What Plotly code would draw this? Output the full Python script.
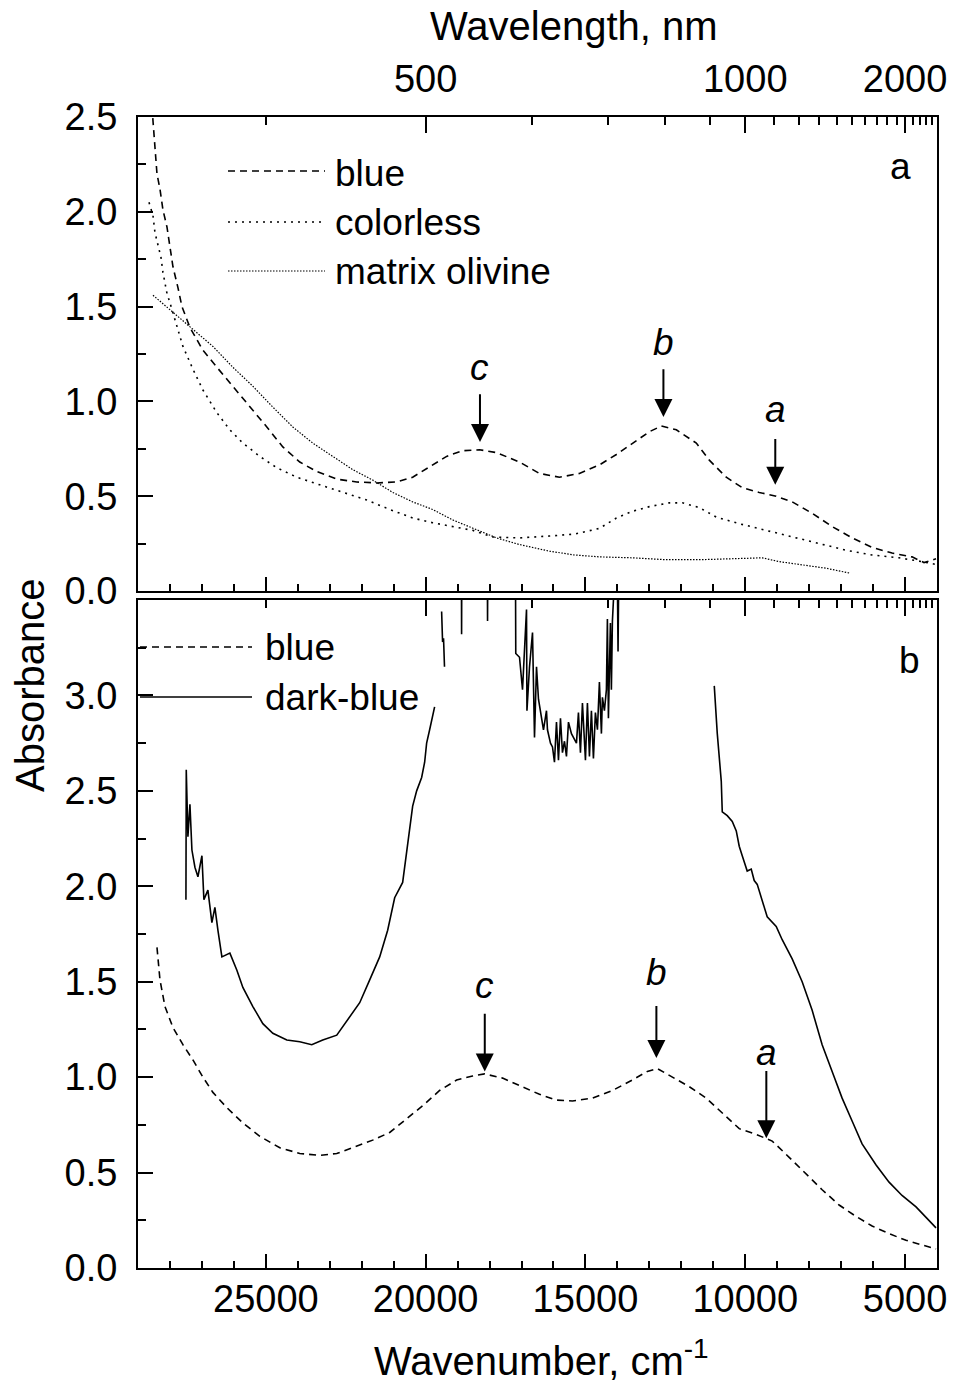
import plotly.graph_objects as go

# ---------------- data (wavenumber cm-1, absorbance) ----------------
# Panel a
a_blue_wn = [28594, 28531, 28469, 28406, 28313, 28219, 28094, 28000, 27906, 27750, 27625, 27375,
             26969, 26531, 26031, 25500, 24969, 24469, 23938, 23406, 22781, 22156, 21531, 20906,
             20406, 19875, 19344, 18844, 18313, 17781, 17063, 16438, 15813, 15188, 14563, 14031,
             13531, 13000, 12625, 12156, 11531, 11125, 10594, 10094, 9563, 9031, 8531, 7906,
             7281, 6656, 6031, 5406, 4781, 4406, 4031]
a_blue_ab = [2.62, 2.48, 2.29, 2.20, 2.12, 2.01, 1.92, 1.80, 1.71, 1.60, 1.50, 1.39,
             1.27, 1.18, 1.08, 0.97, 0.865, 0.76, 0.68, 0.63, 0.59, 0.575, 0.57, 0.575,
             0.60, 0.655, 0.71, 0.74, 0.745, 0.73, 0.68, 0.62, 0.60, 0.62, 0.665, 0.72,
             0.78, 0.84, 0.87, 0.85, 0.78, 0.69, 0.60, 0.545, 0.52, 0.50, 0.47, 0.41,
             0.34, 0.28, 0.23, 0.20, 0.18, 0.15, 0.17]

a_colorless_wn = [28656, 28531, 28469, 28375, 28281, 28219, 28094, 28000, 27781, 27594, 27281,
                  26969, 26531, 26125, 25719, 25188, 24656, 24031, 23313, 22594, 21844, 21125,
                  20406, 19781, 19156, 18531, 17906, 17063, 16125, 15344, 14563, 14031, 13531,
                  13000, 12375, 11969, 11438, 10906, 10188, 9344, 8531, 7688, 6844, 6031, 5188,
                  4469, 4031]
a_colorless_ab = [2.05, 1.98, 1.89, 1.82, 1.76, 1.68, 1.57, 1.52, 1.39, 1.29, 1.17,
                  1.06, 0.94, 0.85, 0.78, 0.71, 0.65, 0.60, 0.56, 0.52, 0.48, 0.43,
                  0.385, 0.36, 0.34, 0.32, 0.285, 0.28, 0.29, 0.30, 0.33, 0.385, 0.42,
                  0.445, 0.465, 0.465, 0.44, 0.39, 0.355, 0.32, 0.285, 0.25, 0.215, 0.19, 0.175,
                  0.155, 0.14]

a_olivine_wn = [28531, 27906, 27281, 26656, 26031, 25406, 24781, 24156, 23531, 22906, 22281,
                21656, 21031, 20406, 19781, 19156, 18531, 17781, 17063, 16125, 15344, 14563,
                13531, 12469, 11438, 10594, 10094, 9469, 8938, 8313, 7469, 6750]
a_olivine_ab = [1.56, 1.47, 1.38, 1.29, 1.18, 1.08, 0.97, 0.865, 0.78, 0.71, 0.64,
                0.585, 0.52, 0.47, 0.43, 0.375, 0.33, 0.28, 0.245, 0.21, 0.19, 0.18,
                0.175, 0.165, 0.165, 0.17, 0.175, 0.175, 0.155, 0.14, 0.12, 0.095]

# Panel b
b_blue_wn = [28406, 28313, 28156, 27906, 27594, 27281, 26969, 26656, 26219, 25719, 25188, 24563,
             23938, 23313, 22781, 22281, 21656, 21125, 20594, 20094, 19563, 19031, 18531, 18156,
             17594, 16969, 16438, 15906, 15406, 14781, 14156, 13531, 13063, 12750, 12375, 11750,
             11219, 10719, 10188, 9656, 9156, 8625, 8094, 7594, 7063, 6531, 6031, 5500, 4969,
             4469, 4031]
b_blue_ab = [1.68, 1.51, 1.37, 1.26, 1.17, 1.09, 1.00, 0.92, 0.84, 0.76, 0.69, 0.63,
             0.60, 0.59, 0.60, 0.63, 0.67, 0.71, 0.78, 0.85, 0.93, 0.985, 1.006, 1.017,
             0.995, 0.95, 0.91, 0.88, 0.875, 0.89, 0.93, 0.985, 1.03, 1.045, 1.01, 0.95,
             0.89, 0.81, 0.73, 0.70, 0.665, 0.58, 0.49, 0.41, 0.33, 0.27, 0.22, 0.18, 0.145,
             0.12, 0.10]

# dark-blue: off-scale parts are left as gaps (None)
b_dark_wn = [27500, 27490, 27438, 27375, 27313, 27219, 27125, 27000, 26938, 26813, 26688, 26594,
             26500, 26375, 26125, 25906, 25719, 25406, 25094, 24781, 24344, 23938, 23563, 23219,
             22781, 22375, 22063, 21750, 21438, 21188, 20969, 20719, 20563, 20406, 20281, 20125,
             20031, 19969, 19875, 19719, None,
             19500, 19470, 19440, 19410, None,
             18880, 18875, 18870, None,
             18068, 18063, 18058, None,
             17188, 17180, 17063, 16969, 16844, 16830, 16750, 16656, 16594, 16531, 16469, 16375,
             16313, 16219, 16188, 16094, 16031, 15969, 15906, 15844, 15781, 15719, 15656, 15594,
             15531, 15438, 15375, 15281, 15219, 15156, 15094, 15000, 14938, 14875, 14813, 14750,
             14688, 14625, 14563, 14500, 14469, 14406, 14344, 14313, 14281, 14219, 14188, 14156,
             14094, None,
             14000, 13980, 13960, None,
             10969, 10875, 10750, 10719, 10563, 10406, 10281, 10188, 10094, 9938, 9813, 9719,
             9625, 9469, 9313, 9031, 8844, 8531, 8219, 7906, 7594, 7281, 6969, 6656, 6344,
             5906, 5500, 5094, 4656, 4313, 4031]
b_dark_ab = [1.93, 2.61, 2.26, 2.43, 2.19, 2.10, 2.05, 2.16, 1.93, 1.98, 1.81, 1.89,
             1.77, 1.63, 1.65, 1.56, 1.47, 1.37, 1.28, 1.23, 1.195, 1.185, 1.17, 1.195,
             1.22, 1.315, 1.39, 1.51, 1.63, 1.77, 1.94, 2.02, 2.23, 2.42, 2.50, 2.57,
             2.65, 2.75, 2.82, 2.94, None,
             3.44, 3.28, 3.30, 3.15, None,
             3.60, 3.32, 3.60, None,
             3.60, 3.39, 3.60, None,
             3.60, 3.22, 3.20, 3.03, 3.45, 2.92, 3.15, 3.33, 2.78, 3.15, 2.98, 2.89,
             2.82, 2.92, 2.82, 2.75, 2.73, 2.65, 2.86, 2.66, 2.88, 2.70, 2.76, 2.68,
             2.86, 2.80, 2.78, 2.75, 2.91, 2.70, 2.96, 2.66, 2.96, 2.68, 2.92, 2.67,
             2.91, 2.82, 3.07, 2.80, 2.99, 2.92, 3.03, 3.40, 2.88, 3.38, 3.03, 3.39,
             3.60, None,
             3.60, 3.23, 3.60, None,
             3.05, 2.80, 2.55, 2.39, 2.37, 2.34, 2.29, 2.21, 2.16, 2.08, 2.09, 2.03,
             2.01, 1.93, 1.84, 1.79, 1.72, 1.62, 1.50, 1.35, 1.17, 1.03, 0.89, 0.77, 0.65,
             0.54, 0.45, 0.38, 0.32, 0.26, 0.21]

# band markers: (label, wavenumber, label y, arrow tail y, arrow tip y)
a_bands = [("c", 18300, 1.18, 1.045, 0.786), ("b", 12560, 1.31, 1.177, 0.918), ("a", 9060, 0.955, 0.81, 0.56)]
b_bands = [("c", 18150, 1.48, 1.34, 1.03), ("b", 12780, 1.55, 1.38, 1.10), ("a", 9340, 1.13, 1.04, 0.68)]

# axis ticks
a_yticks = [0.0, 0.5, 1.0, 1.5, 2.0, 2.5]
a_yminor = [0.25, 0.75, 1.25, 1.75, 2.25]
b_yticks = [0.0, 0.5, 1.0, 1.5, 2.0, 2.5, 3.0]
b_yminor = [0.25, 0.75, 1.25, 1.75, 2.25, 2.75, 3.25]
wl_major_nm = [500, 1000, 2000]
wl_minor_nm = [400, 600, 700, 800, 900, 1100, 1200, 1300, 1400, 1500, 1600, 1700, 1800, 1900,
               2100, 2200, 2300, 2400]

# ---------------- figure ----------------
FONT = "Liberation Sans, Arial, sans-serif"
W, H = 955, 1385
ML, MR, MT, MB = 138, 18, 117, 117
XR = [29000, 4000]

fig = go.Figure()
dash_blue = "7px,5px"
dash_colorless = "2px,5px"
dash_olivine = "1.5px,1.5px"
LW = 1.6

fig.add_trace(go.Scatter(x=a_blue_wn, y=a_blue_ab, mode="lines", xaxis="x2", yaxis="y2",
                         line=dict(color="black", width=LW, dash=dash_blue), showlegend=False))
fig.add_trace(go.Scatter(x=a_colorless_wn, y=a_colorless_ab, mode="lines", xaxis="x2", yaxis="y2",
                         line=dict(color="black", width=LW, dash=dash_colorless), showlegend=False))
fig.add_trace(go.Scatter(x=a_olivine_wn, y=a_olivine_ab, mode="lines", xaxis="x2", yaxis="y2",
                         line=dict(color="black", width=1.2, dash=dash_olivine), showlegend=False))
fig.add_trace(go.Scatter(x=b_blue_wn, y=b_blue_ab, mode="lines", xaxis="x", yaxis="y",
                         line=dict(color="black", width=LW, dash=dash_blue), showlegend=False))
fig.add_trace(go.Scatter(x=b_dark_wn, y=b_dark_ab, mode="lines", xaxis="x", yaxis="y",
                         line=dict(color="black", width=LW), connectgaps=False, showlegend=False))
# dummy traces so overlaying axes get drawn
fig.add_trace(go.Scatter(x=[None], y=[None], xaxis="x3", yaxis="y2", showlegend=False))
fig.add_trace(go.Scatter(x=[None], y=[None], xaxis="x4", yaxis="y", showlegend=False))

wl_major_vals = [1e7 / v for v in wl_major_nm]
wl_minor_vals = [1e7 / v for v in wl_minor_nm]

top_dom = [(1268 - 591) / (1268 - 117), 1.0]
bot_dom = [0.0, (1268 - 600) / (1268 - 117)]

tickfont = dict(family=FONT, size=38, color="black")
common_x = dict(range=XR, autorange=False, showline=True, linecolor="black", linewidth=2,
                ticks="inside", tickcolor="black", tickwidth=2, showgrid=False, zeroline=False,
                automargin=False)
minor_wn = dict(dtick=1000, tick0=0, ticks="inside", ticklen=7, tickwidth=2, tickcolor="black")
minor_wl = dict(tickmode="array", tickvals=wl_minor_vals, ticks="inside", ticklen=8,
                tickwidth=2, tickcolor="black")


def yax(dom, rng, anchor, tv, mv):
    return dict(domain=dom, range=rng, autorange=False, anchor=anchor, showline=True,
                linecolor="black", linewidth=2, mirror=True, ticks="inside", ticklen=15, tickwidth=2,
                tickcolor="black", tickmode="array", tickvals=tv, ticktext=["%.1f" % v for v in tv],
                minor=dict(tickmode="array", tickvals=mv, ticks="inside", ticklen=8, tickwidth=2,
                           tickcolor="black"),
                tickfont=tickfont, ticklabelstandoff=11, showgrid=False, zeroline=False,
                automargin=False)


fig.update_layout(
    width=W, height=H,
    margin=dict(l=ML, r=MR, t=MT, b=MB, autoexpand=False),
    paper_bgcolor="white", plot_bgcolor="white",
    font=dict(family=FONT, color="black"),
    showlegend=False,
    xaxis=dict(**common_x, anchor="y", side="bottom", tick0=0, dtick=5000, ticklen=14,
               minor=minor_wn, tickfont=tickfont, showticklabels=True, ticklabelstandoff=-4,
               tickformat="d"),
    xaxis2=dict(**common_x, anchor="y2", side="bottom", tick0=0, dtick=5000, ticklen=14,
                minor=minor_wn, showticklabels=False),
    xaxis3=dict(**common_x, anchor="y2", overlaying="x2", side="top", tickmode="array",
                tickvals=wl_major_vals, ticktext=[str(v) for v in wl_major_nm], ticklen=16,
                minor=minor_wl, tickfont=tickfont, showticklabels=True, ticklabelstandoff=8),
    xaxis4=dict(**common_x, anchor="y", overlaying="x", side="top", tickmode="array",
                tickvals=wl_major_vals, ticktext=[str(v) for v in wl_major_nm], ticklen=16,
                minor=minor_wl, showticklabels=False),
    yaxis=yax(bot_dom, [0, 3.5], "x", b_yticks, b_yminor),
    yaxis2=yax(top_dom, [0, 2.5], "x2", a_yticks, a_yminor),
)

ann = []
TF = dict(family=FONT, size=40, color="black")
LF = dict(family=FONT, size=37, color="black")


def px_x(p):
    return (p - ML) / (W - ML - MR)


def px_y(p):
    return (1268 - p) / (1268 - 117)


# axis titles
ann.append(dict(text="Wavelength, nm", xref="paper", yref="paper", x=px_x(574), y=px_y(26),
                showarrow=False, font=TF, xanchor="center", yanchor="middle"))
ann.append(dict(text="Wavenumber, cm<sup>-1</sup>", xref="paper", yref="paper", x=px_x(541), y=px_y(1358),
                showarrow=False, font=TF, xanchor="center", yanchor="middle"))
ann.append(dict(text="Absorbance", xref="paper", yref="paper", x=px_x(30), y=px_y(686),
                showarrow=False, font=TF, textangle=-90, xanchor="center", yanchor="middle"))

# panel letters
ann.append(dict(text="a", xref="paper", yref="paper", x=px_x(900), y=px_y(166), showarrow=False,
                font=LF, xanchor="center", yanchor="middle"))
ann.append(dict(text="b", xref="paper", yref="paper", x=px_x(909), y=px_y(660), showarrow=False,
                font=LF, xanchor="center", yanchor="middle"))

# band arrows
for (lab, wn, ly, tail, tip), xr, yr in [(b, "x2", "y2") for b in a_bands] + [(b, "x", "y") for b in b_bands]:
    ann.append(dict(text="<i>%s</i>" % lab, xref=xr, yref=yr, x=wn, y=ly, showarrow=False,
                    font=LF, xanchor="center", yanchor="middle"))
    ann.append(dict(text="", xref=xr, yref=yr, x=wn, y=tip, axref=xr, ayref=yr, ax=wn, ay=tail,
                    showarrow=True, arrowhead=2, arrowsize=1.8, arrowwidth=2, arrowcolor="black"))

# legends (drawn manually)
shapes = []
leg = [
    (228, 325, 171, dash_blue, LW, "blue", 333, 173),
    (228, 325, 222, dash_colorless, LW, "colorless", 333, 222),
    (228, 325, 271, dash_olivine, 1.2, "matrix olivine", 333, 271),
    (140, 252, 647, dash_blue, LW, "blue", 263, 647),
    (140, 252, 697, "solid", LW, "dark-blue", 263, 697),
]
for x0, x1, yy, dsh, lw, txt, tx, ty in leg:
    shapes.append(dict(type="line", xref="paper", yref="paper", x0=px_x(x0), x1=px_x(x1),
                       y0=px_y(yy), y1=px_y(yy), line=dict(color="black", width=lw, dash=dsh)))
    ann.append(dict(text=txt, xref="paper", yref="paper", x=px_x(tx), y=px_y(ty), showarrow=False,
                    font=LF, xanchor="left", yanchor="middle"))

fig.update_layout(annotations=ann, shapes=shapes)
fig.write_html("out.html")
